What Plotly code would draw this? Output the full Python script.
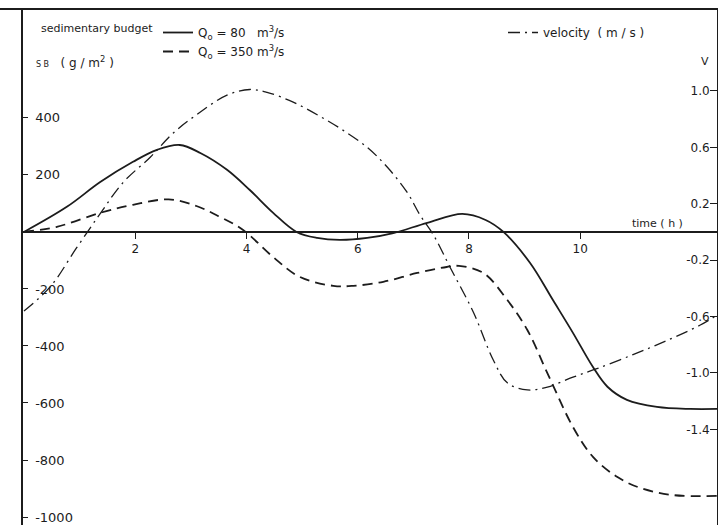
import plotly.graph_objects as go

# time axis (h) and sedimentary budget SB (g/m2) for the two discharges
t_q80 = [0, 0.77, 1.37, 1.96, 2.39, 2.8, 3.17, 3.65, 4.06, 4.48, 4.9, 5.27, 5.68,
         6.17, 6.64, 7.25, 7.88, 8.3, 8.62, 9.1, 9.51, 9.87, 10.23, 10.49, 10.84,
         11.38, 11.98, 12.46]
sb_q80 = [0, 88, 175, 246, 288, 305, 277, 218, 147, 67, 0, -21, -28,
          -21, -4, 32, 63, 42, 0, -109, -239, -354, -474, -543, -589,
          -614, -621, -621]

t_q350 = [0, 0.59, 1.37, 1.96, 2.6, 3.1, 3.52, 3.94, 4.48, 4.96, 5.56, 5.92, 6.46,
          7.07, 7.6, 7.82, 8.26, 8.69, 9.05, 9.41, 9.87, 10.23, 10.67, 11.08,
          11.67, 12.46]
sb_q350 = [0, 18, 67, 95, 114, 91, 53, 7, -88, -158, -189, -189, -175,
           -144, -123, -119, -144, -239, -344, -495, -684, -789, -860, -898,
           -923, -926]

# flow velocity (m/s)
t_vel = [0, 0.47, 0.95, 1.37, 1.78, 2.27, 2.68, 3.1, 3.65, 4.06, 4.37, 4.84, 5.32,
         5.74, 6.17, 6.53, 6.89, 7.12, 7.36, 7.66, 8.08, 8.44, 8.69, 9.05, 9.41,
         9.87, 10.3, 10.95, 11.56, 12.16, 12.46]
vel = [-0.56, -0.39, -0.11, 0.13, 0.35, 0.53, 0.70, 0.83, 0.97, 1.01, 0.99, 0.92, 0.82,
       0.72, 0.60, 0.46, 0.28, 0.12, -0.02, -0.25, -0.57, -0.91, -1.07, -1.12, -1.10,
       -1.03, -0.97, -0.87, -0.77, -0.66, -0.59]

x_ticks = [0, 2, 4, 6, 8, 10, 12]
x_labels = ["\u00a0\u00a00", "2", "4", "6", "8", "10", "\u00a0"]
sb_ticks = [400, 200, -200, -400, -600, -800, -1000]
sb_labels = ["400", "200", "-200", "-400", "-600", "-800", "-1000"]
v_ticks = [1.0, 0.6, 0.2, -0.2, -0.6, -1.0, -1.4]
v_labels = ["1.0", "0.6", "0.2", "-0.2", "-0.6", "-1.0", "-1.4"]

INK = "#1c1c1c"
FONT = "DejaVu Sans"

SB_RANGE = [-1028, 782]
SB_PER_V = 494.7
V_RANGE = [SB_RANGE[0] / SB_PER_V, SB_RANGE[1] / SB_PER_V]

fig = go.Figure()

fig.add_trace(go.Scatter(
    x=t_q80, y=sb_q80, mode="lines", line_shape="spline",
    line=dict(color=INK, width=1.8),
    name="Q<sub>o</sub> = 80\u00a0\u00a0 m<sup>3</sup>/s", legend="legend",
))
fig.add_trace(go.Scatter(
    x=t_q350, y=sb_q350, mode="lines", line_shape="spline",
    line=dict(color=INK, width=1.8, dash="10px,6px"),
    name="Q<sub>o</sub> = 350 m<sup>3</sup>/s", legend="legend",
))
fig.add_trace(go.Scatter(
    x=t_vel, y=vel, mode="lines", line_shape="spline", yaxis="y2",
    line=dict(color=INK, width=1.3, dash="12px,5px,2px,5px"),
    name="velocity\u00a0 (\u00a0m\u00a0/\u00a0s\u00a0)", legend="legend2",
))

fig.update_layout(
    width=718, height=525,
    margin=dict(l=23, r=1, t=9, b=0),
    paper_bgcolor="white", plot_bgcolor="white",
    font=dict(family=FONT, size=12, color=INK),
    xaxis=dict(
        range=[-0.018, 12.46], anchor="free", position=(525 - 232) / 516,
        showgrid=False, zeroline=False,
        showline=True, linecolor=INK, linewidth=1.5,
        tickmode="array", tickvals=x_ticks, ticktext=x_labels,
        ticks="outside", ticklen=6, tickcolor=INK, tickwidth=1.3,
        tickfont=dict(family=FONT, size=12, color=INK),
    ),
    yaxis=dict(
        range=SB_RANGE, showgrid=False, zeroline=False,
        showline=True, linecolor=INK, linewidth=1.5,
        tickmode="array", tickvals=sb_ticks, ticktext=sb_labels,
        ticks="inside", ticklen=5, tickcolor=INK, tickwidth=1.3,
        ticklabelposition="inside", ticklabelstandoff=7,
        tickfont=dict(family=FONT, size=13, color=INK),
    ),
    yaxis2=dict(
        range=V_RANGE, overlaying="y", side="right",
        showgrid=False, zeroline=False,
        showline=True, linecolor=INK, linewidth=1.5,
        tickmode="array", tickvals=v_ticks, ticktext=v_labels,
        ticks="inside", ticklen=7, tickcolor=INK, tickwidth=1.3,
        ticklabelposition="inside",
        tickfont=dict(family=FONT, size=12, color=INK),
    ),
    legend=dict(
        x=(158 - 23) / 694, y=(525 - 18) / 516, xanchor="left", yanchor="top",
        bgcolor="rgba(0,0,0,0)", borderwidth=0, itemwidth=30,
        font=dict(family=FONT, size=12, color=INK), tracegroupgap=0,
    ),
    legend2=dict(
        x=(503 - 23) / 694, y=(525 - 18) / 516, xanchor="left", yanchor="top",
        bgcolor="rgba(0,0,0,0)", borderwidth=0, itemwidth=30,
        font=dict(family=FONT, size=12, color=INK),
    ),
    showlegend=True,
)

# frame line along the top of the plotting area
fig.add_shape(type="line", xref="paper", yref="paper", x0=-0.04, x1=1.01, y0=1, y1=1,
              line=dict(color=INK, width=2))

fig.add_annotation(text="sedimentary budget", xref="paper", yref="paper",
                   x=(39 - 23) / 694, y=(525 - 29) / 516, xanchor="left", yanchor="middle",
                   showarrow=False, font=dict(family=FONT, size=11, color=INK))
fig.add_annotation(text="<span style='font-size:8px'>S B</span>\u00a0\u00a0 ( g / m<sup>2</sup> )",
                   xref="paper", yref="paper",
                   x=(34 - 23) / 694, y=(525 - 62) / 516, xanchor="left", yanchor="middle",
                   showarrow=False, font=dict(family=FONT, size=12, color=INK))
fig.add_annotation(text="V", xref="paper", yref="paper",
                   x=(705 - 23) / 694, y=(525 - 62) / 516, xanchor="center", yanchor="middle",
                   showarrow=False, font=dict(family=FONT, size=11, color=INK))
fig.add_annotation(text="time ( h )", xref="paper", yref="paper",
                   x=(657 - 23) / 694, y=(525 - 224) / 516, xanchor="center", yanchor="middle",
                   showarrow=False, font=dict(family=FONT, size=11, color=INK))

fig.write_html("out.html")
